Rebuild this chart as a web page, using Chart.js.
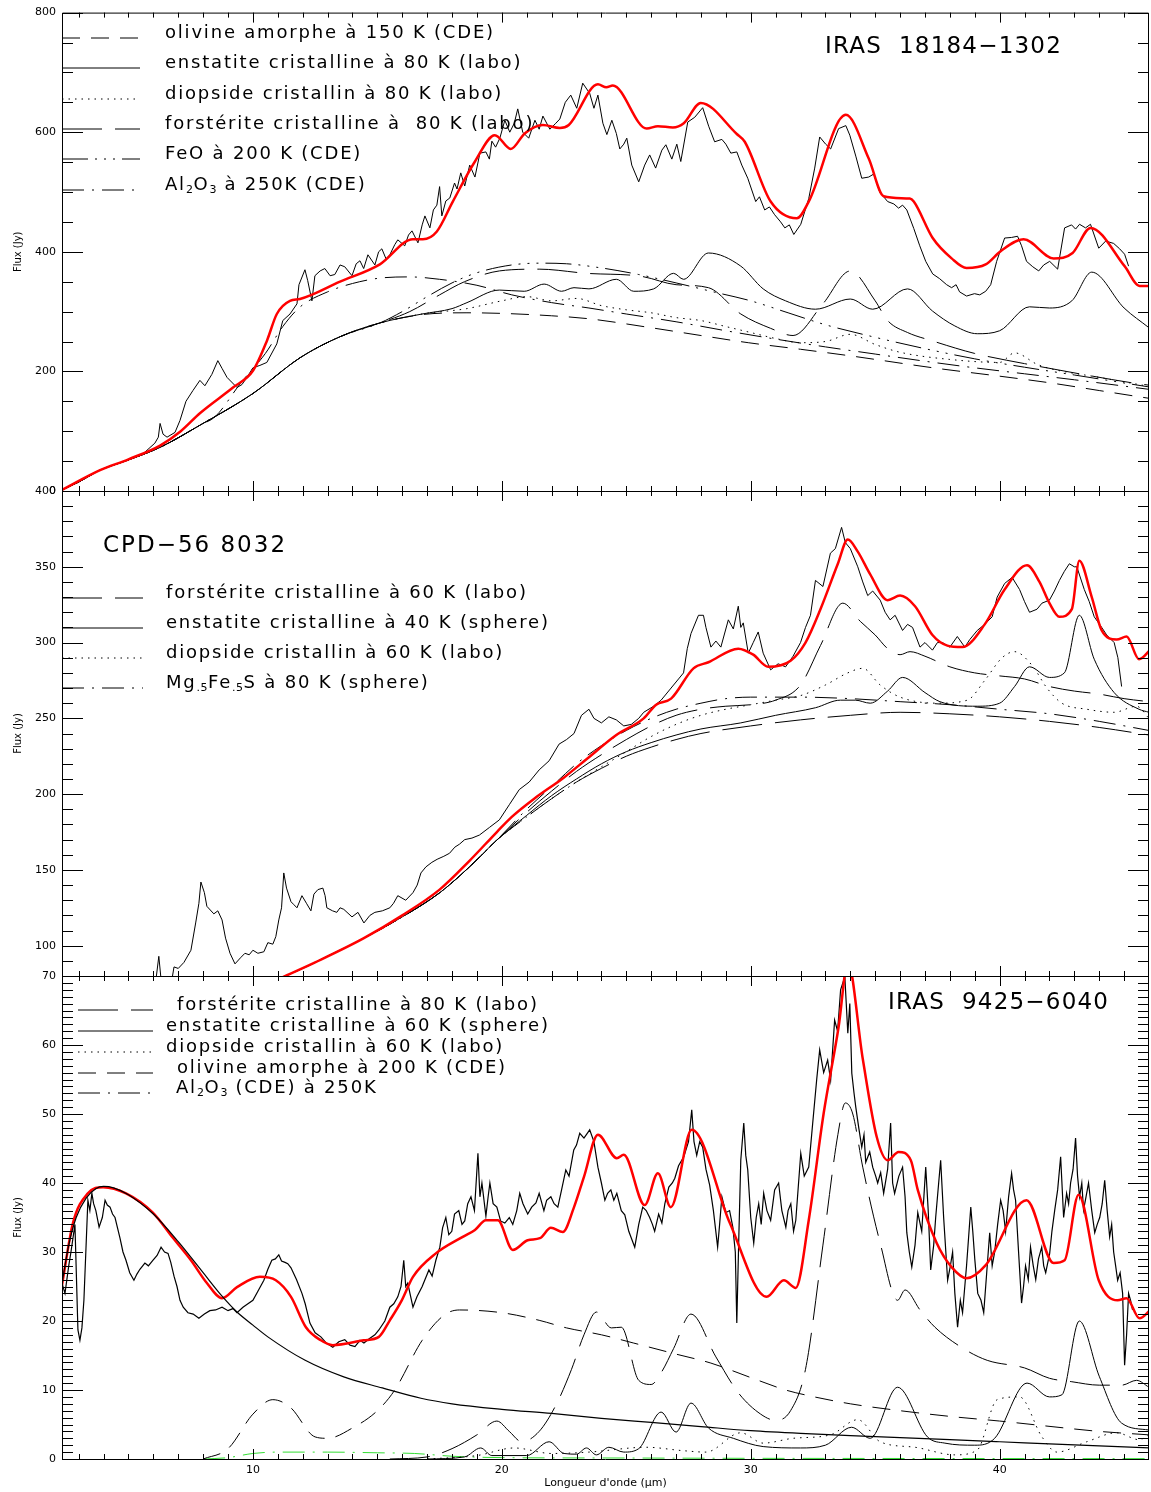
<!DOCTYPE html>
<html>
<head>
<meta charset="utf-8">
<title>Spectres ISO</title>
<script src="https://cdn.jsdelivr.net/npm/chart.js@4.4.0/dist/chart.umd.min.js"></script>
<style>
  html, body { margin: 0; padding: 0; background: #fff; }
  #wrap { position: relative; width: 1151px; height: 1492px; }
  #wrap canvas { position: absolute; left: 0; top: 0; }
</style>
</head>
<body>
<div id="wrap">
  <canvas id="panel1" width="1151" height="1492"></canvas>
  <canvas id="panel2" width="1151" height="1492"></canvas>
  <canvas id="panel3" width="1151" height="1492"></canvas>
</div>
<script>
// spectra.js
// three stacked IDL-like panels: observed spectrum, model (red) and dust components

// ---- axes ----
const xRange = [2.33, 46];
const xTicks = [10, 20, 30, 40];
const yTicks1 = [0, 200, 400, 600, 800];
const yTicks2 = [100, 150, 200, 250, 300, 350, 400];
const yTicks3 = [0, 10, 20, 30, 40, 50, 60, 70];

// ---- panel 1 : IRAS 18184-1302 ----
const obs1 = [[2.33,2],[3,15],[3.86,35],[5.06,53],[5.58,62],[6.06,80],[6.2,90],[6.27,113],[6.39,95],[6.55,90],[6.87,98],[7.07,118],[7.31,150],[7.59,168],[7.87,185],[8.07,176],[8.35,195],[8.59,218],[8.76,205],[8.96,190],[9.36,173],[9.56,178],[9.76,190],[10,206],[10.28,210],[10.56,215],[10.96,246],[11.2,285],[11.49,296],[11.77,313],[11.85,345],[12.09,370],[12.2,352],[12.37,318],[12.49,360],[12.7,368],[12.89,372],[13.1,360],[13.29,362],[13.5,378],[13.69,375],[13.98,360],[14.15,380],[14.3,385],[14.45,372],[14.62,395],[14.9,378],[15.05,400],[15.18,405],[15.35,388],[15.5,395],[15.7,412],[15.82,420],[16.1,410],[16.25,428],[16.39,435],[16.63,415],[16.8,445],[16.91,460],[17.11,440],[17.25,470],[17.39,478],[17.5,509],[17.59,460],[17.75,485],[17.91,490],[18.1,515],[18.2,505],[18.35,532],[18.51,510],[18.71,545],[18.92,525],[19.12,565],[19.36,567],[19.5,555],[19.6,585],[19.75,575],[19.92,590],[20.12,620],[20.32,600],[20.5,615],[20.64,639],[20.84,600],[21.08,590],[21.33,620],[21.5,605],[21.65,627],[21.93,605],[22.17,615],[22.33,622],[22.55,650],[22.77,662],[23.01,640],[23.25,682],[23.53,665],[23.7,640],[23.86,662],[24.06,615],[24.22,596],[24.42,620],[24.6,598],[24.74,572],[24.9,580],[25.02,590],[25.22,545],[25.5,517],[25.74,545],[25.94,562],[26.18,540],[26.43,570],[26.59,579],[26.83,555],[27.03,580],[27.19,551],[27.47,617],[27.75,625],[28.07,641],[28.31,610],[28.55,584],[28.84,588],[29,580],[29.2,565],[29.44,567],[29.64,545],[29.88,523],[30.2,484],[30.35,492],[30.56,470],[30.75,475],[30.96,462],[31.2,450],[31.37,440],[31.55,445],[31.73,429],[32.01,446],[32.33,489],[32.57,540],[32.77,592],[33.01,580],[33.21,572],[33.53,606],[33.82,611],[33.98,595],[34.22,560],[34.46,523],[34.74,525],[34.94,530],[35.18,500],[35.5,484],[35.75,480],[35.94,473],[36.1,478],[36.27,470],[36.55,439],[36.79,410],[37.03,384],[37.31,363],[37.59,355],[37.87,345],[38.07,340],[38.25,345],[38.39,333],[38.67,326],[38.99,330],[39.2,328],[39.44,334],[39.64,345],[39.88,384],[40.2,423],[40.48,424],[40.72,426],[40.88,410],[41.08,384],[41.33,375],[41.57,368],[41.77,378],[42.01,384],[42.33,371],[42.61,440],[42.89,445],[43.05,438],[43.21,446],[43.45,440],[43.65,446],[43.98,406],[44.26,418],[44.58,414],[44.82,405],[45.02,396],[45.18,376]];
const model1 = [[2.33,2],[3.86,35],[5,53],[6.27,76],[7.1,100],[7.87,130],[9.2,173],[10,201],[10.56,251],[10.96,296],[11.49,318],[11.89,321],[13.5,350],[15.1,379],[16.43,421],[16.83,421],[17.39,434],[18.03,484],[18.92,551],[19.72,595],[20.36,572],[20.92,598],[21.65,612],[22.33,607],[22.69,612],[23.86,680],[24.2,675],[24.46,678],[25.82,606],[26.27,610],[26.87,608],[27.31,615],[27.99,649],[29.44,597],[29.76,584],[30.8,484],[31.85,456],[32.33,484],[33.82,629],[34.74,556],[35.34,493],[36.39,489],[36.55,484],[37.31,423],[38.07,389],[38.67,373],[39.44,379],[40.04,401],[40.96,421],[42.17,389],[42.93,398],[43.65,440],[45.02,376],[45.62,343],[46.06,343]];
const base1 = [[2.33,2],[3,15],[3.86,35],[5,52],[6.27,73],[7.87,110],[10,163],[11.9,223],[13.5,258],[15.1,281]];
const olivine1 = [[16.8,295],[18.6,298],[20,297],[22,293],[23.5,288],[26,273],[28,260],[29.9,248],[32,237],[34,226],[37.5,205],[40,192],[42,181],[44,168],[46,155]];
const enstatite1 = [[16.8,296],[18,305],[18.6,315],[19.9,336],[20.9,334],[21.7,346],[22.4,334],[22.9,340],[23.5,338],[24.6,354],[25.3,334],[26.1,338],[26.9,364],[27.3,354],[28.3,398],[29.6,376],[30.5,338],[31.4,318],[32.6,304],[34,321],[34.9,304],[36.3,338],[37.3,301],[38.2,276],[39.1,263],[40,268],[41.2,308],[42,306],[42.9,318],[43.7,366],[45,306],[46,273]];
const diopside1 = [[16.8,296],[18.6,305],[20,318],[21,325],[22,318],[23,322],[24,310],[25,303],[26,298],[27,290],[28,285],[29,275],[30,265],[31,255],[32,248],[33,250],[34,262],[35,245],[36,232],[38,220],[40,215],[40.6,231],[41.5,212],[42,205],[44,190],[46,175]];
const forsterite1 = [[16.3,300],[17.5,328],[18.5,350],[19.9,368],[21.5,371],[23.4,364],[25.6,359],[27,345],[28.3,340],[29.6,296],[30.8,272],[31.7,260],[32.9,313],[34,368],[35,318],[35.5,285],[36.3,265],[37.3,251],[39,230],[41,213],[43.2,196],[45.3,181],[46,177]];
const feo1 = [[16,300],[17,325],[18,348],[19,365],[20.4,378],[21.5,381],[22.6,380],[24,373],[25.5,362],[27,348],[28.5,333],[30,318],[31.5,298],[33,278],[35,257],[37,238],[39,221],[41,207],[43,194],[46,174]];
const alumina1 = [[8.5,125],[9.5,180],[10.5,230],[11.2,275],[11.9,308],[13,333],[14,347],[15.1,356],[16.3,358],[17.5,354],[19,344],[20.4,328],[22,315],[23.5,306],[25,296],[27,283],[29,268],[31,254],[33,241],[35,229],[37,217],[39,206],[41,196],[43,186],[46,170]];

// ---- panel 2 : CPD-56 8032 ----
const obs2 = [[5.9,70],[6.1,77],[6.22,93],[6.32,76],[6.5,70],[6.75,78],[6.83,86],[7.0,85],[7.23,89],[7.51,97],[7.7,115],[7.83,128],[7.91,142],[8.05,135],[8.15,126],[8.43,121],[8.59,123],[8.76,117],[8.9,105],[9.08,95],[9.28,88],[9.5,92],[9.68,95],[9.85,94],[10,97],[10.2,95],[10.44,96],[10.6,102],[10.8,101],[10.92,106],[11.04,117],[11.15,125],[11.24,148],[11.35,138],[11.53,129],[11.65,127],[11.77,125],[11.97,133],[12.15,128],[12.33,123],[12.45,134],[12.61,137],[12.81,138],[12.9,133],[12.97,125],[13.2,123],[13.37,122],[13.5,125],[13.65,124],[13.98,119],[14.22,122],[14.46,115],[14.7,120],[14.9,122],[15.2,123],[15.5,125],[15.65,128],[15.82,133],[16.14,130],[16.43,135],[16.6,140],[16.75,148],[16.95,152],[17.19,155],[17.4,157],[17.67,159],[17.9,161],[18.11,165],[18.3,167],[18.51,170],[18.8,171],[19.1,173],[19.5,178],[19.9,183],[20.3,193],[20.7,203],[21.1,208],[21.5,216],[21.9,222],[22.3,233],[22.6,236],[22.9,240],[23.2,252],[23.5,256],[23.7,250],[24,247],[24.3,251],[24.6,249],[24.9,245],[25.2,246],[25.5,250],[25.7,254],[26.1,258],[26.4,262],[26.8,270],[27.1,276],[27.3,280],[27.45,296],[27.6,306],[27.9,318],[28.1,318],[28.2,310],[28.4,297],[28.6,301],[28.8,297],[29.1,315],[29.3,309],[29.5,324],[29.6,310],[29.7,313],[29.9,293],[30.1,300],[30.3,307],[30.5,293],[30.8,282],[31.1,286],[31.4,284],[31.7,291],[32,300],[32.2,310],[32.4,318],[32.6,341],[32.9,337],[33.2,359],[33.4,362],[33.65,376],[33.8,366],[34,362],[34.3,350],[34.5,340],[34.7,331],[34.9,334],[35.2,328],[35.4,320],[35.6,315],[35.8,318],[36.1,308],[36.3,312],[36.5,310],[36.8,297],[37,300],[37.3,295],[37.5,300],[37.7,300],[38,297],[38.3,304],[38.6,297],[38.8,302],[39.1,308],[39.4,312],[39.7,317],[39.9,330],[40.2,339],[40.5,343],[40.8,335],[41,327],[41.2,320],[41.5,322],[41.7,326],[42,328],[42.2,334],[42.4,341],[42.6,347],[42.8,352],[43,350],[43.1,350],[43.4,335],[43.6,327],[43.8,317],[44.1,310],[44.3,305],[44.6,300],[44.75,290],[44.9,271]];
const model2 = [[10.5,74],[11.37,80.5],[12.5,89],[14.44,104.8],[16,120],[17.5,137],[18.7,156],[19.8,175],[20.4,185],[21.3,197],[22.5,211],[23.4,223],[24.6,239],[25.7,250],[26.2,259],[26.8,263],[27.7,283],[28.3,287],[29.5,296],[30.1,292],[30.7,284],[31.6,288],[32.2,300],[32.8,322],[33.5,352],[33.9,368],[34.3,360],[34.8,345],[35.5,328],[36,331],[36.6,324],[37.3,305],[37.9,298],[38.5,297],[39.4,312],[40.2,335],[41.1,351],[41.6,340],[42,326],[42.4,317],[42.9,322],[43.2,354],[43.7,330],[44.1,308],[44.7,302],[45.1,304],[45.6,289],[46.1,296]];
const base2 = [[10.5,74],[11.37,80.5],[12,85],[13,93],[14.44,104.8],[16,119],[17.51,135],[18.7,152],[19.82,170]];
const continuum2 = [[21,185],[22,197],[23,208],[24,217],[25,225],[26,231],[27,236],[28,240],[30,245],[32,249],[34,252],[36,254],[38,253],[40,251],[42,248],[44,244],[46,239]];
const forsterite2 = [[21,188],[22,202],[23,215],[24,226],[25,236],[26,245],[27,252],[28,256],[29,258],[30,259],[31,262],[32,272],[32.8,298],[33.7,326],[34.4,314],[35,305],[35.5,296],[36,292],[36.4,294],[37,291],[38,284],[39,280],[40,278],[41,276],[42,271],[43,268],[44,266],[45,263],[46,261]];
const enstatite2 = [[21,186],[22,199],[23,210],[24,220],[25,228],[26,234],[27,239],[28,243],[29.6,247],[31,252],[32.6,257],[33.6,262],[34.2,262],[34.8,260],[35.5,268],[36.1,277],[37,267],[37.6,261],[39.1,258],[40,260],[40.6,271],[41.2,284],[42,277],[42.6,280],[43.2,318],[43.8,289],[44.6,267],[45.6,256],[46,254]];
const diopside2 = [[21,185],[22,197],[23,208],[24,218],[25,228],[26,238],[27,246],[28,252],[29,256],[30,259],[31,262],[32,265],[33,272],[33.9,280],[34.5,283],[35.2,272],[36,264],[37.5,260],[38.7,262],[39.4,275],[40.1,290],[40.6,294],[41.3,285],[41.9,270],[42.5,260],[43.5,256],[44.6,254],[45.5,258],[46,250]];
const mgfes2 = [[21,190],[22,205],[23,220],[24,232],[25,242],[26,250],[27,256],[28,260],[29,263],[30,264],[32,264],[34,263],[36,261],[38,259],[40,256],[42,253],[44,248],[46,242]];

// ---- panel 3 : IRAS 9425-6040 ----
const obs3 = [[2.33,25.5],[2.45,24],[2.6,28],[2.69,30],[2.85,34],[2.97,18.7],[3.05,17.2],[3.13,19],[3.21,23],[3.37,37.5],[3.45,36],[3.53,38.5],[3.6,37],[3.69,36],[3.82,33.6],[3.95,35],[4.06,37.5],[4.15,36.8],[4.26,36.5],[4.36,35.5],[4.46,35],[4.56,33.5],[4.66,32],[4.78,30],[4.9,28.8],[5.05,27],[5.22,25.9],[5.34,26.8],[5.46,27.5],[5.66,28.4],[5.8,28],[5.98,28.8],[6.15,29.5],[6.31,30.7],[6.45,30],[6.59,29.8],[6.7,28.5],[6.83,26.5],[6.95,25],[7.07,23],[7.2,22],[7.39,21.2],[7.6,21],[7.83,20.4],[8.05,21],[8.27,21.5],[8.5,21.6],[8.76,22],[9,21.5],[9.2,21.8],[9.36,21.2],[9.6,22],[9.8,22.5],[10,23],[10.2,24.3],[10.44,25.9],[10.6,27.5],[10.76,28.8],[10.9,29],[11.04,29.6],[11.15,28.7],[11.29,28.5],[11.4,28.3],[11.53,27.7],[11.75,26],[11.97,24],[12.1,22.5],[12.29,19.7],[12.5,18.3],[12.73,17.7],[12.95,16.8],[13.21,16.2],[13.45,17],[13.69,17.3],[13.9,16.5],[14.1,16.3],[14.3,17.2],[14.46,16.8],[14.7,17.5],[14.9,18],[15.06,18.7],[15.3,20],[15.5,22],[15.66,22.5],[15.82,23.5],[15.95,25],[16.06,28.8],[16.14,25],[16.22,25.5],[16.43,22],[16.59,23.5],[16.8,25],[17.07,27.4],[17.2,26.5],[17.35,28.8],[17.51,30.7],[17.62,33.5],[17.75,35],[17.87,32.5],[17.99,33],[18.1,35.5],[18.27,36],[18.4,34],[18.51,34.5],[18.63,37],[18.76,38],[18.9,36],[19.04,44.3],[19.12,38],[19.2,40],[19.36,35.2],[19.45,38],[19.52,40],[19.65,37],[19.8,36.5],[19.95,34.5],[20.12,34.2],[20.3,35],[20.44,34],[20.6,36],[20.72,38.5],[20.85,37],[21.04,35.5],[21.2,36.5],[21.37,37.1],[21.5,38.5],[21.69,36],[21.8,37.5],[21.97,38],[22.1,37],[22.25,36.5],[22.4,39],[22.57,41.9],[22.7,41],[22.89,44.8],[23,45.5],[23.13,47.2],[23.3,46.5],[23.53,47.7],[23.7,46],[23.86,42.3],[24,40],[24.14,37.5],[24.25,38.5],[24.38,39],[24.5,37.5],[24.62,38.5],[24.8,36],[24.94,35.4],[25.1,33],[25.34,30.7],[25.5,34],[25.66,36.5],[25.8,36],[25.94,35],[26.05,34],[26.14,33],[26.3,35.5],[26.43,34.2],[26.55,37],[26.71,39.4],[26.85,40],[26.95,40.7],[27.1,42.5],[27.31,43.8],[27.5,46],[27.63,50.6],[27.72,46],[27.83,44],[27.95,46],[28.07,45.2],[28.2,42],[28.35,39.7],[28.5,36],[28.67,30.7],[28.75,34],[28.84,38],[29,35.7],[29.15,36],[29.28,33.6],[29.38,30],[29.44,19.7],[29.52,32],[29.6,43.3],[29.72,48.7],[29.8,44],[29.88,41.9],[30,35],[30.12,31.3],[30.22,35],[30.32,37],[30.42,34],[30.52,38.5],[30.65,36],[30.8,34.6],[30.96,39],[31.12,40],[31.25,36],[31.41,33.6],[31.5,36],[31.61,37],[31.72,33],[31.81,34.6],[32.01,44.3],[32.15,41],[32.33,42.3],[32.49,48.7],[32.65,55],[32.77,59.3],[32.93,56],[33.09,57.8],[33.21,54.9],[33.37,63.6],[33.49,62],[33.61,68],[33.78,69.9],[33.9,61.7],[33.98,66],[34.06,55.9],[34.15,53],[34.22,51],[34.34,48],[34.46,45.2],[34.55,47],[34.62,43],[34.78,44.5],[34.9,42.3],[35.02,41],[35.1,40],[35.22,41.5],[35.34,38.5],[35.5,42],[35.62,48.7],[35.7,40],[35.78,38.5],[35.95,41],[36.1,42.3],[36.2,38],[36.27,32.8],[36.37,30],[36.47,27.8],[36.6,31],[36.71,35.7],[36.87,33],[37.03,42.3],[37.13,36],[37.23,27.4],[37.35,31],[37.43,35],[37.55,40],[37.63,43.3],[37.75,35],[37.91,25.9],[38.02,28],[38.11,30],[38.2,24],[38.31,19.1],[38.42,23],[38.51,21.2],[38.67,28],[38.75,32],[38.84,36.5],[38.92,33],[39,29],[39.12,24],[39.25,23],[39.36,21.2],[39.48,27],[39.6,32.8],[39.7,28],[39.8,30],[39.92,34],[40.04,37.5],[40.14,36],[40.24,33],[40.36,38],[40.48,41.4],[40.56,39],[40.64,37.5],[40.76,30],[40.88,22.6],[40.96,25],[41.04,28],[41.15,26],[41.24,30.7],[41.35,28],[41.45,26],[41.56,29],[41.69,30.7],[41.77,28],[41.85,27],[42.01,29.8],[42.1,33],[42.21,36],[42.33,39],[42.45,43.8],[42.57,35],[42.69,38.5],[42.77,37],[42.85,40],[42.95,42],[43.05,46.5],[43.13,41],[43.21,38],[43.3,40],[43.37,36.1],[43.47,38],[43.57,40],[43.7,36],[43.82,32.8],[43.92,34],[44.02,35],[44.12,37],[44.22,40.4],[44.32,36],[44.42,32.2],[44.5,34],[44.58,30],[44.66,28],[44.74,25.9],[44.84,27],[44.94,24],[45.02,13.6],[45.1,18],[45.18,24],[45.26,23],[45.34,21.6]];
const model3 = [[2.33,25.2],[2.77,34.2],[3.37,38.5],[3.98,39.4],[4.9,38.5],[5.98,35.7],[6.75,32.2],[7.51,28.8],[8.15,25.5],[8.76,23.3],[9.36,24.9],[10.28,26.4],[10.92,25.9],[11.53,23.5],[12.13,19.1],[12.73,17.2],[13.21,16.5],[14.46,17.2],[15.06,17.7],[15.5,20.1],[15.98,23],[16.43,26.4],[17.35,29.8],[18.43,32.2],[18.92,33.2],[19.36,34.6],[19.84,34.6],[20.44,30.3],[21.04,31.7],[21.53,32],[21.97,33.5],[22.45,32.9],[22.89,36.4],[23.3,40.9],[23.86,47],[24.62,43.6],[24.9,44.1],[25.74,36.8],[26.27,41.4],[26.79,36.5],[27.63,47.7],[29.16,34.2],[30.64,23.5],[31.33,25.9],[31.81,24.8],[32.33,34.6],[32.93,50.1],[33.53,62.6],[33.9,72],[34.5,58],[35.06,46.7],[35.5,43.3],[35.94,44.5],[36.43,43.3],[36.71,39],[37.47,31.3],[38.07,27.8],[38.67,26.2],[39.44,28.1],[41.08,37.5],[42.17,28.4],[42.61,28.8],[43.17,38.3],[43.98,25.9],[44.74,23],[45.1,23.3],[45.62,20.4],[46.06,21.6]];
const hotDust3 = [[2.33,25.5],[2.6,31],[2.9,35],[3.3,37.8],[3.7,39.2],[4,39.5],[4.4,39.3],[5,38.3],[6,35.5],[7,31.5],[8,27],[8.76,23.6],[9.36,21.3],[10,19.4],[10.6,17.7],[12.1,14.3],[13.65,11.9],[15.2,10.3],[16.75,8.8],[18,8],[20,7.2],[22,6.6],[24,5.9],[26,5.3],[28,4.7],[30,4.1],[32,3.7],[34,3.4],[36,3.1],[38,2.8],[40,2.5],[42,2.2],[44,1.9],[46,1.6]];
const forsterite3 = [[15.5,0],[17,0.3],[18,1.5],[19,3.5],[19.8,5.5],[20.3,4],[20.8,2.5],[21.5,4],[22.2,8],[22.8,13],[23.3,18],[23.8,21.3],[24.4,19],[24.8,19.1],[25.5,11.4],[26,10.8],[26.4,12.5],[26.9,16],[27.6,21],[28.6,14.8],[29.5,9.6],[30.4,6.5],[31,5.6],[31.6,7],[32.2,13],[32.9,31],[33.5,47],[33.8,51.6],[34.1,50],[34.5,42.3],[35.2,31.3],[35.9,23],[36.2,24.5],[36.8,21.6],[37.4,19.1],[38.5,16.1],[39.5,14.3],[41,13.2],[42,11.7],[42.9,11.2],[44,10.7],[44.9,10.7],[45.5,11.4],[46,10.4]];
const enstatite3 = [[17,0],[18.5,0.3],[19.15,1.6],[19.6,0.5],[21,0.5],[21.9,2.5],[22.5,0.8],[23,0.7],[23.4,1.6],[23.8,0.6],[24.3,1.7],[24.9,1],[25.5,1.5],[26.4,6.8],[27,3.9],[27.6,8.1],[28.3,4.5],[29.3,3],[30.5,1.8],[32,1.6],[33,2],[34.05,4.6],[34.8,3],[35.9,10.4],[37.1,3.2],[37.8,2.3],[39,2],[39.8,3],[41.1,11],[42,9],[42.5,9.3],[43.2,20],[44,12],[44.9,5.2],[46,4.2]];
const diopside3 = [[17,0],[19,0.5],[20.5,1.6],[22,0.8],[23.5,1],[25.8,1.7],[27.3,1.2],[28.2,1],[29.6,3.8],[30.5,2.3],[31.7,3],[33.2,3.5],[34.3,5.7],[35.2,2.5],[36.6,1.7],[38.2,0.6],[39.1,1.3],[39.9,8.6],[40.8,9],[41.7,3.2],[42.3,1],[43.5,2.5],[44.7,3.8],[45.6,2.8],[46,3.5]];
const olivine3 = [[8,0],[9,1.5],[10,6.5],[10.8,8.6],[11.5,7.5],[12.5,3.2],[13,3],[14,4.5],[15,7],[15.7,10],[16.8,17.2],[17.7,20.9],[18.3,21.6],[20,21.2],[21.5,20.1],[22.6,19],[24,18],[25.3,16.8],[27,15.2],[28.4,13.9],[30,11.8],[31.4,10],[32.3,9.2],[34,8],[36,7],[38.2,6.1],[40,5.5],[42.6,4.5],[44,4],[46,3.5]];
const alumina3 = [[8,0],[9,0.2],[10,0.8],[11,1],[13,1],[15,0.9],[16.5,0.8],[18,0.4],[20,0.2],[24,0.15],[30,0.1],[46,0.05]];

// IDL line styles
const DASH = {
  solid: [],
  dotted: [1.5, 5],
  dashed: [18, 11],
  longDash: [40, 13],
  dashDot: [22, 8, 2, 8],
  dashDot3: [26, 7, 2, 7, 2, 7, 2, 7]
};
const FONT = '"DejaVu Sans", "Liberation Sans", sans-serif';

function toXY(points) {
  return points.map(([x, y]) => ({ x, y }));
}

function line(points, { color = '#000', width = 1, dash = DASH.solid, smooth = true } = {}) {
  return {
    data: toXY(points),
    borderColor: color,
    borderWidth: width,
    borderDash: dash,
    pointRadius: 0,
    fill: false,
    tension: 0,
    cubicInterpolationMode: smooth ? 'monotone' : 'default'
  };
}

function range(a, b) {
  const out = [];
  for (let v = a; v <= b; v++) out.push(v);
  return out;
}

// text with simple subscripts: "Al_2O_3", "Mg_{.5}"
function drawRich(ctx, text, x, y, size, spacing) {
  const parts = text.split(/(_\{[^}]*\}|_.)/).filter(Boolean);
  ctx.textBaseline = 'middle';
  ctx.textAlign = 'left';
  ctx.fillStyle = '#000';
  parts.forEach(part => {
    const sub = part.charAt(0) === '_';
    const s = sub ? part.replace(/^_\{?/, '').replace(/\}$/, '') : part;
    const fs = sub ? Math.round(size * 0.6) : size;
    ctx.font = `${fs}px ${FONT}`;
    ctx.letterSpacing = (sub ? 0.5 : spacing) + 'px';
    ctx.fillText(s, x, sub ? y + size * 0.3 : y);
    x += ctx.measureText(s).width;
  });
  ctx.letterSpacing = '0px';
}

// frame with inward ticks on all sides, legend and title
const idlFrame = {
  id: 'idlFrame',
  afterDatasetsDraw(chart, args, opts) {
    const { ctx, chartArea: a, scales } = chart;
    const xs = scales.x, ys = scales.y;
    ctx.save();
    ctx.setLineDash([]);
    ctx.strokeStyle = '#000';
    ctx.lineWidth = 1;
    ctx.beginPath();
    ctx.rect(a.left + 0.5, a.top + 0.5, a.right - a.left - 1, a.bottom - a.top);
    const seg = (x1, y1, x2, y2) => { ctx.moveTo(x1, y1); ctx.lineTo(x2, y2); };
    range(3, 45).forEach(v => {
      const p = Math.round(xs.getPixelForValue(v)) + 0.5;
      const len = xTicks.includes(v) ? 10 : 5;
      seg(p, a.top, p, a.top + len);
      seg(p, a.bottom, p, a.bottom - len);
    });
    opts.yMinor.forEach(v => {
      const p = Math.round(ys.getPixelForValue(v)) + 0.5;
      const len = opts.yMajor.includes(v) ? 21 : 11;
      seg(a.left, p, a.left + len, p);
      seg(a.right, p, a.right - len, p);
    });
    ctx.stroke();

    (opts.legend || []).forEach(item => {
      ctx.beginPath();
      ctx.setLineDash(item.dash);
      ctx.moveTo(item.x0, item.y + 5);
      ctx.lineTo(item.x1, item.y + 5);
      ctx.stroke();
      ctx.setLineDash([]);
      drawRich(ctx, item.text, item.tx, item.y, 18, 1.8);
    });
    if (opts.title) {
      drawRich(ctx, opts.title.text, opts.title.x, opts.title.y, opts.title.size, opts.title.spacing);
    }
    ctx.restore();
  }
};

function makePanel(id, cfg) {
  const showX = !!cfg.showX;
  return new Chart(document.getElementById(id), {
    type: 'line',
    data: { datasets: cfg.datasets },
    options: {
      responsive: false,
      animation: false,
      events: [],
      layout: { padding: cfg.padding },
      plugins: { legend: { display: false }, tooltip: { enabled: false }, idlFrame: cfg.frame },
      scales: {
        x: {
          type: 'linear',
          min: xRange[0],
          max: xRange[1],
          display: showX,
          afterBuildTicks: s => { s.ticks = xTicks.map(v => ({ value: v })); },
          afterFit: s => { s.height = showX ? 33 : 0; },
          grid: { display: false, drawTicks: false },
          border: { display: false },
          ticks: { color: '#000', padding: 5, font: { family: FONT, size: 11 } },
          title: {
            display: true,
            text: 'Longueur d\'onde (\u03bcm)',
            color: '#000',
            padding: { top: 0, bottom: 2 },
            font: { family: FONT, size: 11 }
          }
        },
        y: {
          type: 'linear',
          min: cfg.yMin,
          max: cfg.yMax,
          afterBuildTicks: s => { s.ticks = cfg.frame.yMajor.map(v => ({ value: v })); },
          afterFit: s => { s.width = 62; },
          grid: { display: false, drawTicks: false },
          border: { display: false },
          ticks: { color: '#000', padding: 6, font: { family: FONT, size: 11 }, callback: v => String(v) },
          title: {
            display: true,
            text: 'Flux (Jy)',
            color: '#000',
            padding: { top: 12, bottom: 0 },
            font: { family: FONT, size: 10 }
          }
        }
      }
    },
    plugins: [idlFrame]
  });
}

// panel 1
makePanel('panel1', {
  padding: { top: 10, bottom: 1001, left: 0, right: 2 },
  yMin: 0, yMax: 800,
  datasets: [
    line(model1, { color: '#ff0000', width: 2.5 }),
    line(obs1, { smooth: false }),
    line(base1.concat(olivine1), { dash: DASH.dashed }),
    line(base1.concat(enstatite1)),
    line(base1.concat(diopside1), { dash: DASH.dotted }),
    line(base1.concat(forsterite1), { dash: DASH.longDash }),
    line(base1.concat(feo1), { dash: DASH.dashDot3 }),
    line(base1.slice(0, 6).concat(alumina1), { dash: DASH.dashDot })
  ],
  frame: {
    yMajor: yTicks1,
    yMinor: range(0, 16).map(i => i * 50),
    title: { text: 'IRAS  18184\u22121302', x: 825, y: 47, size: 23, spacing: 1.2 },
    legend: [
      { text: 'olivine amorphe \u00e0 150 K (CDE)', y: 33, x0: 62, x1: 140, tx: 165, dash: DASH.dashed },
      { text: 'enstatite cristalline \u00e0 80 K (labo)', y: 63, x0: 62, x1: 140, tx: 165, dash: DASH.solid },
      { text: 'diopside cristallin \u00e0 80 K (labo)', y: 94, x0: 62, x1: 140, tx: 165, dash: DASH.dotted },
      { text: 'forst\u00e9rite cristalline \u00e0  80 K (labo)', y: 124, x0: 62, x1: 140, tx: 165, dash: DASH.longDash },
      { text: 'FeO \u00e0 200 K (CDE)', y: 154, x0: 62, x1: 140, tx: 165, dash: DASH.dashDot3 },
      { text: 'Al_2O_3 \u00e0 250K (CDE)', y: 185, x0: 62, x1: 140, tx: 165, dash: DASH.dashDot }
    ]
  }
});

// panel 2
makePanel('panel2', {
  padding: { top: 491, bottom: 516, left: 0, right: 2 },
  yMin: 80, yMax: 400,
  datasets: [
    line(model2, { color: '#ff0000', width: 2.5 }),
    line(obs2, { smooth: false }),
    line(base2.concat(continuum2), { dash: DASH.longDash }),
    line(base2.concat(forsterite2), { dash: DASH.longDash }),
    line(base2.concat(enstatite2)),
    line(base2.concat(diopside2), { dash: DASH.dotted }),
    line(base2.concat(mgfes2), { dash: DASH.dashDot })
  ],
  frame: {
    yMajor: yTicks2,
    yMinor: range(8, 40).map(i => i * 10),
    title: { text: 'CPD\u221256 8032', x: 103, y: 546, size: 23, spacing: 2 },
    legend: [
      { text: 'forst\u00e9rite cristalline \u00e0 60 K (labo)', y: 593, x0: 62, x1: 143, tx: 166, dash: DASH.longDash },
      { text: 'enstatite cristalline \u00e0 40 K (sphere)', y: 623, x0: 62, x1: 143, tx: 166, dash: DASH.solid },
      { text: 'diopside cristallin \u00e0 60 K (labo)', y: 653, x0: 62, x1: 143, tx: 166, dash: DASH.dotted },
      { text: 'Mg_{.5}Fe_{.5}S \u00e0 80 K (sphere)', y: 683, x0: 62, x1: 143, tx: 166, dash: DASH.dashDot }
    ]
  }
});

// panel 3
makePanel('panel3', {
  padding: { top: 976, bottom: 0, left: 0, right: 2 },
  yMin: 0, yMax: 70,
  showX: true,
  datasets: [
    line(hotDust3, { width: 1.2 }),
    line(model3, { color: '#ff0000', width: 2.5 }),
    line(obs3, { smooth: false, width: 1.2 }),
    line(forsterite3, { dash: DASH.longDash }),
    line(enstatite3),
    line(diopside3, { dash: DASH.dotted }),
    line(olivine3, { dash: DASH.dashed }),
    line(alumina3, { color: '#33dd33', dash: DASH.dashDot })
  ],
  frame: {
    yMajor: yTicks3,
    yMinor: range(0, 70),
    title: { text: 'IRAS  9425\u22126040', x: 888, y: 1003, size: 23, spacing: 1.2 },
    legend: [
      { text: 'forst\u00e9rite cristalline \u00e0 80 K (labo)', y: 1005, x0: 78, x1: 153, tx: 177, dash: DASH.longDash },
      { text: 'enstatite cristalline \u00e0 60 K (sphere)', y: 1026, x0: 78, x1: 153, tx: 166, dash: DASH.solid },
      { text: 'diopside cristallin \u00e0 60 K (labo)', y: 1047, x0: 78, x1: 153, tx: 166, dash: DASH.dotted },
      { text: 'olivine amorphe \u00e0 200 K (CDE)', y: 1068, x0: 78, x1: 153, tx: 177, dash: DASH.dashed },
      { text: 'Al_2O_3 (CDE) \u00e0 250K', y: 1088, x0: 78, x1: 153, tx: 176, dash: DASH.dashDot }
    ]
  }
});
</script>
</body>
</html>
